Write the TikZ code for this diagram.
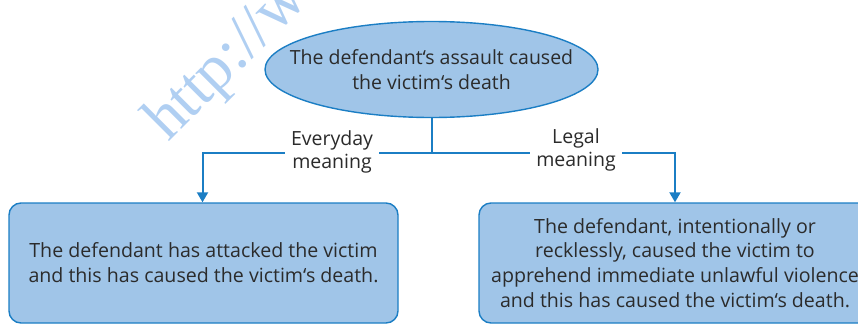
\documentclass[tikz,border=0pt]{standalone}
\usepackage{fontspec}
\setmainfont{Open Sans}
\newfontfamily\wmfont{Liberation Serif}
\usetikzlibrary{shapes.geometric,arrows.meta}
\definecolor{boxfill}{HTML}{A0C5E8}
\definecolor{boxline}{HTML}{1B7EC4}
\definecolor{txtcol}{HTML}{2B2B2B}
\definecolor{wmcol}{HTML}{B0CFF2}
\tikzset{
  ovalbox/.style={ellipse, draw=boxline, fill=boxfill, line width=1.4pt,
    minimum width=333pt, minimum height=96pt, inner sep=0pt},
  plaintext/.style={text=txtcol, font=\fontsize{19.5}{25}\selectfont, align=center, inner sep=0pt},
  resultbox/.style={draw=boxline, fill=boxfill, line width=1.4pt, rounded corners=12pt,
    minimum height=120pt, text=txtcol, font=\fontsize{19.6}{24.8}\selectfont, align=center, inner sep=0pt},
  conn/.style={draw=boxline, line width=2pt},
  arr/.style={conn, -{Triangle[width=11pt,length=10pt]}},
  lbl/.style={fill=white, text=txtcol, font=\fontsize{19.5}{22.5}\selectfont, align=center,
    inner xsep=6pt, inner ysep=2pt},
  watermark/.style={text=wmcol, font=\wmfont\fontsize{64}{64}\selectfont, rotate=45, anchor=base west, inner sep=0pt}
}
\begin{document}
\begin{tikzpicture}[x=1pt,y=-1pt]
\useasboundingbox (0,0) rectangle (858,324);
\begin{scope}
  \clip (0,0) rectangle (858,324);
  \node[watermark] (wm) at (168,143) {http://www.};
  \node[ovalbox] (top) at (431.5,69.5) {};
  \node[plaintext] (toptext) at (top.center) {The defendant‘s assault caused\\the victim‘s death};
  \node[resultbox, minimum width=389pt] (lb) at (203.5,263) {The defendant has attacked the victim\\and this has caused the victim‘s death.};
  \node[resultbox, minimum width=392pt] (rb) at (675,263) {The defendant, intentionally or\\recklessly, caused the victim to\\apprehend immediate unlawful violence\\and this has caused the victim‘s death.};
  \coordinate (split) at (431.5,153);
  \draw[conn] (top.south) -- (split);
  \draw[arr] (split) -| ([xshift=-1pt]lb.north);
  \draw[arr] (split) -| (rb.north);
  \node[lbl] (everyday) at (332,152) {Everyday\\meaning};
  \node[lbl] (legal) at (576,150) {Legal\\meaning};
\end{scope}
\end{tikzpicture}
\end{document}
